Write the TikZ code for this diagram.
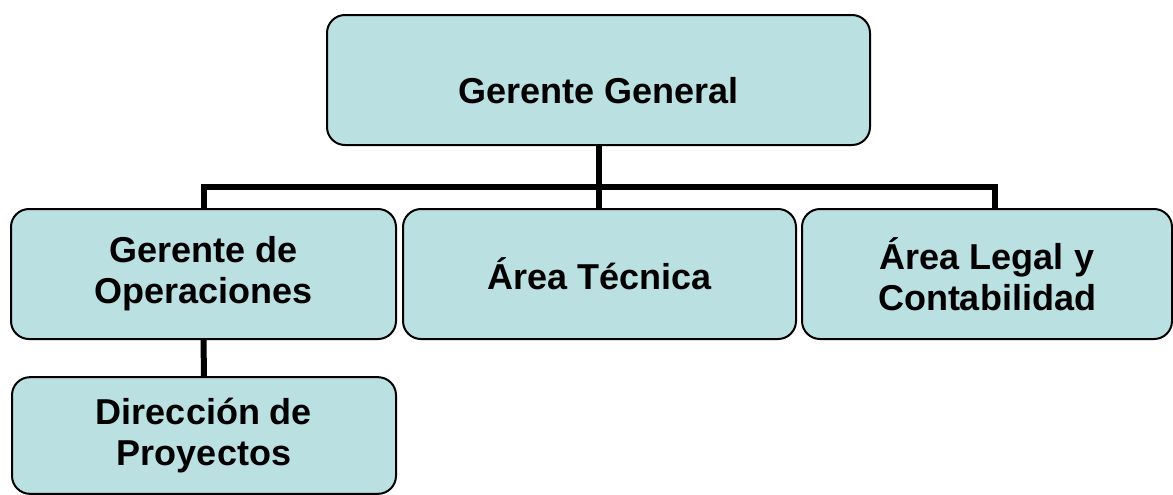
\documentclass[tikz,border=0pt]{standalone}
\usepackage{fontspec}
\setmainfont{Liberation Sans}
\usepackage{xcolor}
\definecolor{boxfill}{RGB}{186,224,226}

\tikzset{
  unit/.style={draw=black, line width=1.5pt, fill=boxfill, rounded corners=13.5pt,
    inner sep=0pt, align=center, font=\fontsize{27}{30.5}\selectfont\bfseries},
  link/.style={draw=black, line width=4.5pt, line join=miter}
}

\begin{document}
\begin{tikzpicture}[x=0.75pt,y=0.75pt,yscale=-1]
        \useasboundingbox (0,0) rectangle (1173,494);

        %Shape: Rounded Rect [id:gg]
        \node [unit, minimum width=407.25pt, minimum height=97.5pt] (gg) at (598.5,80) {};
        % Text Node
        \node [font=\fontsize{27}{30.5}\selectfont\bfseries, inner sep=0pt] (ggtxt) at (598.5,91) {Gerente General};

        %Shape: Rounded Rect [id:ops]
        \node [unit, minimum width=288.75pt, minimum height=97.5pt] (ops) at (203.5,274) {Gerente de\\Operaciones};
        %Shape: Rounded Rect [id:tec]
        \node [unit, minimum width=294.75pt, minimum height=97.5pt] (tec) at (599.5,274) {\'Area T\'ecnica};
        %Shape: Rounded Rect [id:leg]
        \node [unit, minimum width=277.5pt, minimum height=97.5pt] (leg) at (987,274) {\'Area Legal y\\Contabilidad};
        %Shape: Rounded Rect [id:dir]
        \node [unit, minimum width=288pt, minimum height=87.5pt] (dir) at (204,435.5) {Direcci\'on de\\Proyectos};

        %Straight Lines
        \coordinate (busL) at (203.5,187);
        \coordinate (busR) at (994.5,187);
        \draw [link] (gg.south) -- (gg.south |- tec.north);
        \draw [link] (ops.north) -- (busL) -- (busR) -- (busR |- leg.north);
        \draw [link] (ops.south) -- (dir.north);

\end{tikzpicture}
\end{document}
